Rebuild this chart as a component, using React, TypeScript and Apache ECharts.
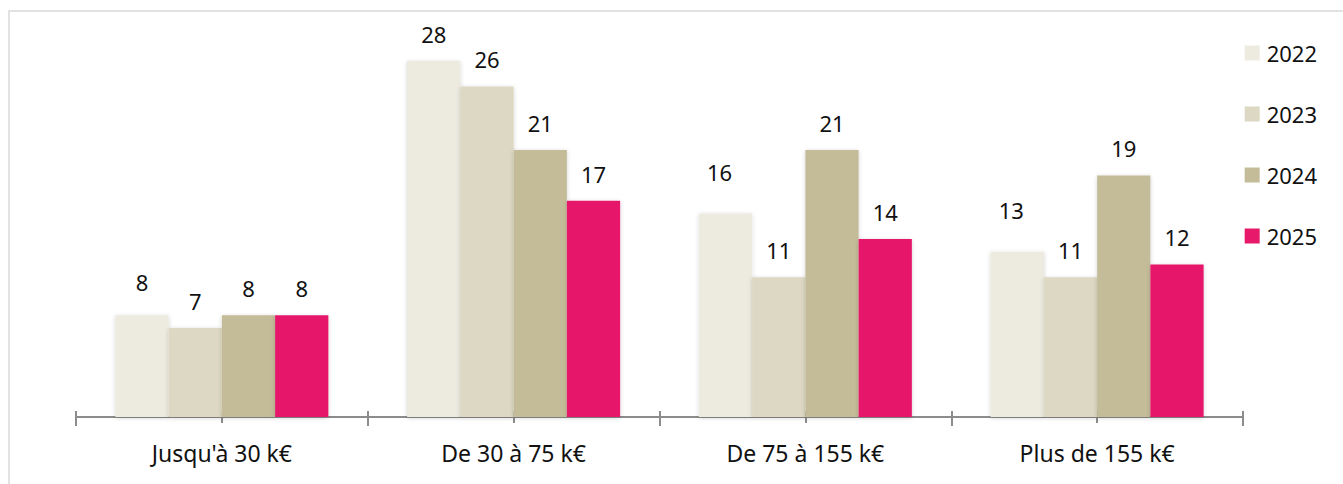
import React, { useEffect, useRef } from "react";
import * as echarts from "echarts";

const categories = ["Jusqu'à 30 k€", "De 30 à 75 k€", "De 75 à 155 k€", "Plus de 155 k€"];
const years = ["2022", "2023", "2024", "2025"];
const v2022 = [8, 28, 16, 13];
const v2023 = [7, 26, 11, 11];
const v2024 = [8, 21, 21, 19];
const v2025 = [8, 17, 14, 12];
const colors = ["#EDEAE0", "#DDD8C3", "#C4BC98", "#E6196A"];

// extra label lift (px) for labels the original chart placed higher
const labelLift: Record<string, [number, number]> = {
  "0-0": [0, 6],
  "0-2": [-6, 15],
  "0-3": [-6, 15],
};

const FONT = "'Noto Sans', sans-serif";
const FS = 22;

export default function App() {
  const ref = useRef<HTMLDivElement>(null);
  useEffect(() => {
    if (!ref.current) return;
    const chart = echarts.init(ref.current, undefined, { renderer: "svg" });
    const values = [v2022, v2023, v2024, v2025];
    const halfCats = ["a", "b", "c", "d", "e", "f", "g", "h"];
    chart.setOption({
      animation: false,
      textStyle: { fontFamily: FONT },
      grid: { left: 76, right: 100, top: 61, bottom: 67, containLabel: false },
      legend: {
        orient: "vertical",
        right: 21,
        top: 37,
        itemWidth: 15,
        itemHeight: 15,
        itemGap: 39,
        icon: "rect",
        data: years,
        textStyle: { fontSize: FS, lineHeight: 22, color: "#111", fontFamily: FONT, padding: [0, 0, 0, 2] },
      },
      xAxis: [
        {
          type: "category",
          data: categories,
          axisLine: { show: true, lineStyle: { color: "#8c8c8c", width: 2 } },
          axisTick: { show: true, length: 9, lineStyle: { color: "#8c8c8c", width: 2 } },
          axisLabel: { fontSize: 23, color: "#111", margin: 24, fontFamily: FONT },
        },
        {
          type: "category",
          data: halfCats,
          position: "bottom",
          axisLine: { show: false },
          axisTick: { show: true, length: 6, lineStyle: { color: "#8c8c8c", width: 2 } },
          axisLabel: { show: false },
        },
        {
          type: "category",
          data: halfCats,
          position: "bottom",
          axisLine: { show: false },
          axisTick: { show: true, inside: true, length: 6, lineStyle: { color: "#8c8c8c", width: 2 } },
          axisLabel: { show: false },
        },
      ],
      yAxis: { type: "value", min: 0, max: 28, show: false, splitLine: { show: false } },
      series: years.map((y, i) => ({
        name: y,
        type: "bar",
        xAxisIndex: 0,
        data: values[i].map((v, j) => {
          const lift = labelLift[`${i}-${j}`];
          return lift ? { value: v, label: { offset: [lift[0], -lift[1]] } } : v;
        }),
        barGap: "0%",
        barCategoryGap: "27%",
        itemStyle: {
          color: colors[i],
          shadowBlur: 4,
          shadowColor: "rgba(0,0,0,0.18)",
          shadowOffsetX: 0,
          shadowOffsetY: 1,
        },
        label: {
          show: true,
          position: "top",
          distance: 16,
          fontSize: FS,
          color: "#111",
          fontFamily: FONT,
        },
      })),
      graphic: [
        {
          type: "rect",
          shape: { x: 9, y: 11, width: 1400, height: 520 },
          style: { fill: "none", stroke: "#d9d9d9", lineWidth: 1.5 },
          silent: true,
          z: -10,
        },
      ],
    });
    return () => chart.dispose();
  }, []);
  return (
    <div
      ref={ref}
      style={{ position: "fixed", left: 0, top: 0, width: 1343, height: 484, background: "#fff" }}
    />
  );
}
